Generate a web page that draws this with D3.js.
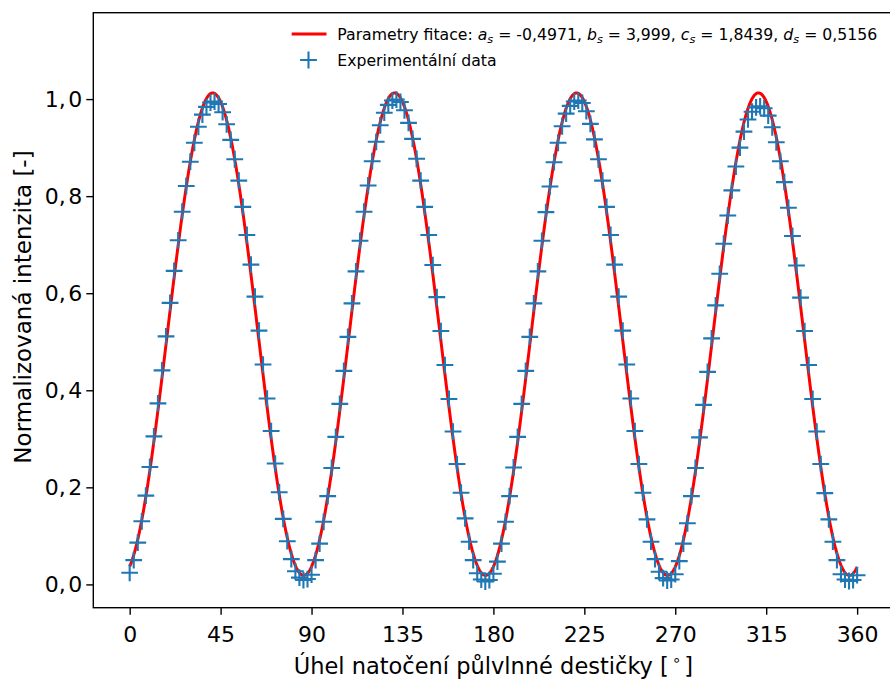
<!DOCTYPE html>
<html>
<head>
<meta charset="utf-8">
<script src="https://cdn.jsdelivr.net/npm/d3@7"></script>
<style>
  html, body { margin: 0; padding: 0; background: #fff; }
  svg { display: block; font-family: "DejaVu Sans", sans-serif; }
</style>
</head>
<body>
<svg id="chart" width="890" height="680"></svg>
<script>
// Rotation angle of the half-wave plate [deg]
const angles = [
  0, 2, 4, 6, 8, 10, 12, 14, 16, 18, 20, 22, 24, 26, 28, 30, 32, 34, 36, 38,
  40, 42, 44, 46, 48, 50, 52, 54, 56, 58, 60, 62, 64, 66, 68, 70, 72, 74, 76, 78,
  80, 82, 84, 86, 88, 90, 92, 94, 96, 98, 100, 102, 104, 106, 108, 110, 112, 114, 116, 118,
  120, 122, 124, 126, 128, 130, 132, 134, 136, 138, 140, 142, 144, 146, 148, 150, 152, 154, 156, 158,
  160, 162, 164, 166, 168, 170, 172, 174, 176, 178, 180, 182, 184, 186, 188, 190, 192, 194, 196, 198,
  200, 202, 204, 206, 208, 210, 212, 214, 216, 218, 220, 222, 224, 226, 228, 230, 232, 234, 236, 238,
  240, 242, 244, 246, 248, 250, 252, 254, 256, 258, 260, 262, 264, 266, 268, 270, 272, 274, 276, 278,
  280, 282, 284, 286, 288, 290, 292, 294, 296, 298, 300, 302, 304, 306, 308, 310, 312, 314, 316, 318,
  320, 322, 324, 326, 328, 330, 332, 334, 336, 338, 340, 342, 344, 346, 348, 350, 352, 354, 356, 358,
  360
];

// Measured normalized intensity [-]
const intensity = [
  // 0 - 88
  0.024, 0.050, 0.086, 0.130, 0.183, 0.242, 0.305, 0.373, 0.441, 0.511,
  0.580, 0.646, 0.709, 0.768, 0.821, 0.871, 0.910, 0.943, 0.968, 0.984,
  0.993, 0.995, 0.990, 0.973, 0.948, 0.916, 0.876, 0.832, 0.778, 0.720,
  0.659, 0.593, 0.523, 0.453, 0.383, 0.316, 0.249, 0.190, 0.135, 0.089,
  0.052, 0.027, 0.014, 0.009, 0.011,
  // 90 - 178
  0.020, 0.050, 0.084, 0.129, 0.182, 0.240, 0.304, 0.372, 0.440, 0.510,
  0.579, 0.645, 0.708, 0.768, 0.822, 0.872, 0.912, 0.946, 0.972, 0.988,
  0.997, 0.999, 0.994, 0.977, 0.951, 0.918, 0.877, 0.832, 0.778, 0.720,
  0.658, 0.592, 0.522, 0.452, 0.382, 0.315, 0.248, 0.189, 0.136, 0.088,
  0.050, 0.023, 0.010, 0.006, 0.009,
  // 180 - 268
  0.022, 0.047, 0.084, 0.129, 0.182, 0.241, 0.304, 0.372, 0.440, 0.510,
  0.579, 0.645, 0.708, 0.767, 0.820, 0.870, 0.910, 0.944, 0.970, 0.986,
  0.995, 0.997, 0.992, 0.975, 0.949, 0.917, 0.876, 0.832, 0.778, 0.720,
  0.659, 0.593, 0.523, 0.453, 0.383, 0.316, 0.248, 0.189, 0.134, 0.088,
  0.052, 0.026, 0.013, 0.008, 0.010,
  // 270 - 358
  0.021, 0.048, 0.084, 0.126, 0.182, 0.240, 0.303, 0.370, 0.438, 0.507,
  0.575, 0.640, 0.702, 0.760, 0.812, 0.861, 0.900, 0.933, 0.958, 0.974,
  0.983, 0.985, 0.981, 0.966, 0.942, 0.911, 0.872, 0.829, 0.776, 0.718,
  0.657, 0.591, 0.522, 0.452, 0.382, 0.315, 0.248, 0.188, 0.134, 0.088,
  0.050, 0.021, 0.010, 0.007, 0.009,
  // 360
  0.019
];

// Fit y = a*sin(b*x + c) + d, x in radians
const fitA = -0.4971, fitB = 3.999, fitC = 1.8439, fitD = 0.5156;

const xTicks = [0, 45, 90, 135, 180, 225, 270, 315, 360];
const yTicks = [0, 0.2, 0.4, 0.6, 0.8, 1.0];

const svg = d3.select("#chart");
const plot = { left: 93.3, right: 893.5, top: 12.7, bottom: 607.7 };

const x = d3.scaleLinear().domain([-18, 378]).range([plot.left, plot.right]);
const y = d3.scaleLinear().domain([-0.048, 1.178]).range([plot.bottom, plot.top]);

svg.append("defs").append("clipPath").attr("id", "plotClip")
  .append("rect")
  .attr("x", plot.left).attr("y", plot.top)
  .attr("width", plot.right - plot.left).attr("height", plot.bottom - plot.top);

const g = svg.append("g").attr("clip-path", "url(#plotClip)");

// fitted curve
const fitPts = d3.range(0, 360.0001, 0.25).map(deg => {
  const r = deg * Math.PI / 180;
  return [deg, fitA * Math.sin(fitB * r + fitC) + fitD];
});
g.append("path")
  .datum(fitPts)
  .attr("fill", "none")
  .attr("stroke", "#ff0000")
  .attr("stroke-width", 3)
  .attr("d", d3.line().x(d => x(d[0])).y(d => y(d[1])));

// measured points as "+" markers
const half = 8.4;
const pts = g.append("g").attr("stroke", "#1f77b4").attr("stroke-width", 2.1);
angles.forEach((a, i) => {
  const cx = x(a), cy = y(intensity[i]);
  pts.append("path").attr("d", `M${cx - half},${cy}H${cx + half}M${cx},${cy - half}V${cy + half}`);
});

// axes
const tickFont = 22;
const xAxis = d3.axisBottom(x).tickValues(xTicks).tickSize(7).tickFormat(d3.format("d"));
const yAxis = d3.axisLeft(y).tickValues(yTicks).tickSize(7).tickPadding(4).tickFormat("");

const gx = svg.append("g").attr("transform", `translate(0,${plot.bottom})`).call(xAxis);
const gy = svg.append("g").attr("transform", `translate(${plot.left},0)`).call(yAxis);
[gx, gy].forEach(ax => {
  ax.select(".domain").remove();
  ax.selectAll(".tick line").attr("stroke", "#000").attr("stroke-width", 1.4);
  ax.selectAll(".tick text").attr("fill", "#000").attr("font-size", tickFont)
    .attr("font-family", "DejaVu Sans");
});
gx.selectAll(".tick text").attr("y", 34).attr("dy", null);

// y tick labels with decimal comma (small math-style space after the comma)
gy.selectAll(".tick text").each(function (d) {
  const [ip, fp] = d3.format(".1f")(d).split(".");
  const t = d3.select(this);
  t.append("tspan").text(ip + ",");
  t.append("tspan").attr("dx", 2.5).text(fp);
});

// frame
svg.append("rect")
  .attr("x", plot.left).attr("y", plot.top)
  .attr("width", plot.right - plot.left).attr("height", plot.bottom - plot.top)
  .attr("fill", "none").attr("stroke", "#000").attr("stroke-width", 1.4);

// axis titles
const labelFont = 23;
const xl = svg.append("text")
  .attr("x", (plot.left + plot.right) / 2).attr("y", 674)
  .attr("text-anchor", "middle").attr("font-size", 22.5);
xl.append("tspan").text("Úhel natočení půlvlnné destičky [");
xl.append("tspan").attr("font-size", 15).attr("dx", 3).attr("dy", -9).text("∘");
xl.append("tspan").attr("dx", 3).attr("dy", 9).text("]");

svg.append("text")
  .attr("transform", `translate(30.5,307) rotate(-90)`)
  .attr("text-anchor", "middle").attr("font-size", labelFont)
  .text("Normalizovaná intenzita [-]");

// legend
const leg = svg.append("g").attr("font-size", 15.7);
leg.append("line").attr("x1", 291.7).attr("x2", 326.5).attr("y1", 34).attr("y2", 34)
  .attr("stroke", "#ff0000").attr("stroke-width", 3);
const t1 = leg.append("text").attr("x", 337.3).attr("y", 39.5);
const params = [["a", "-0,4971"], ["b", "3,999"], ["c", "1,8439"], ["d", "0,5156"]];
t1.append("tspan").text("Parametry fitace: ");
params.forEach(([n, v], i) => {
  t1.append("tspan").attr("font-style", "italic").text(n);
  t1.append("tspan").attr("font-style", "italic").attr("font-size", 11.3).attr("dy", 3).text("s");
  t1.append("tspan").attr("dy", -3).text(` = ${v}` + (i < params.length - 1 ? ", " : ""));
});
const lx = 308.5, ly = 60;
leg.append("path").attr("stroke", "#1f77b4").attr("stroke-width", 2.1)
  .attr("d", `M${lx - half},${ly}H${lx + half}M${lx},${ly - half}V${ly + half}`);
leg.append("text").attr("x", 337.3).attr("y", 65.5).text("Experimentální data");
</script>
</body>
</html>
